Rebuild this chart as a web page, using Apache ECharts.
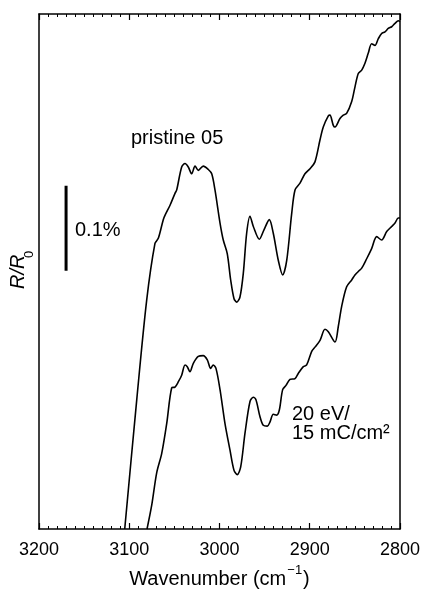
<!DOCTYPE html>
<html>
<head>
<meta charset="utf-8">
<script src="https://cdn.jsdelivr.net/npm/echarts@6/dist/echarts.min.js"></script>
<style>
  html, body { margin: 0; padding: 0; background: #fff; }
  #chart { width: 423px; height: 596px; }
</style>
</head>
<body>
<div id="chart"></div>
<script>
// Reflectance change spectra (R/R0, in %, vertically offset) vs. wavenumber
var pristineWn = [3105, 3091.7, 3080.7, 3071.5, 3067.8, 3062.3, 3060.4, 3054.8, 3049.3, 3047.4, 3041.9, 3038.2, 3034.6, 3030.8, 3027.1, 3023.5, 3018.0, 3012.4, 3008.6, 3005.0, 2999.4, 2995.8, 2991.4, 2987.6, 2983.9, 2980.9, 2977.3, 2973.6, 2969.9, 2966.2, 2962.5, 2955.9, 2950.7, 2944.8, 2940.4, 2934.8, 2930.0, 2925.5, 2920.0, 2916.3, 2910.8, 2905.3, 2899.7, 2894.2, 2888.6, 2885.0, 2879.4, 2877.6, 2873.9, 2872.0, 2866.5, 2862.8, 2859.1, 2853.5, 2849.9, 2846.2, 2842.4, 2838.8, 2835.1, 2831.4, 2827.7, 2824.0, 2820.3, 2816.6, 2813.0, 2809.2, 2805.5, 2801.9, 2800];
var pristineR = [0, 0.152, 0.269, 0.336, 0.342, 0.364, 0.369, 0.381, 0.395, 0.399, 0.426, 0.430, 0.426, 0.418, 0.427, 0.422, 0.427, 0.423, 0.418, 0.399, 0.360, 0.340, 0.324, 0.293, 0.271, 0.267, 0.273, 0.301, 0.348, 0.368, 0.356, 0.341, 0.352, 0.364, 0.348, 0.316, 0.299, 0.316, 0.371, 0.399, 0.407, 0.418, 0.424, 0.432, 0.458, 0.473, 0.486, 0.487, 0.475, 0.473, 0.483, 0.487, 0.489, 0.503, 0.520, 0.536, 0.540, 0.548, 0.560, 0.571, 0.569, 0.577, 0.583, 0.585, 0.589, 0.591, 0.595, 0.598, 0.597];

var irradWn = [3080.3, 3075.1, 3069.6, 3064.0, 3058.5, 3053.0, 3049.3, 3045.7, 3041.9, 3038.2, 3035.7, 3032.7, 3029.0, 3023.5, 3018.0, 3013.5, 3009.8, 3006.9, 3003.9, 2999.4, 2993.9, 2988.4, 2983.9, 2980.3, 2976.5, 2971.7, 2966.2, 2962.5, 2959.6, 2955.1, 2951.5, 2947.0, 2944.0, 2940.4, 2936.6, 2933.7, 2930.0, 2926.3, 2921.9, 2916.3, 2912.7, 2907.1, 2903.4, 2897.8, 2894.2, 2888.6, 2883.1, 2879.4, 2872.0, 2868.4, 2864.6, 2859.1, 2853.5, 2849.9, 2846.2, 2842.4, 2836.9, 2831.4, 2825.8, 2820.3, 2814.7, 2809.2, 2805.5, 2801.9, 2800];
var irradR = [0, 0.028, 0.066, 0.089, 0.124, 0.166, 0.167, 0.173, 0.181, 0.193, 0.191, 0.185, 0.195, 0.203, 0.204, 0.199, 0.189, 0.193, 0.189, 0.164, 0.124, 0.093, 0.069, 0.064, 0.073, 0.113, 0.150, 0.155, 0.152, 0.132, 0.122, 0.121, 0.126, 0.135, 0.134, 0.140, 0.164, 0.169, 0.176, 0.177, 0.183, 0.191, 0.193, 0.209, 0.214, 0.222, 0.235, 0.232, 0.220, 0.238, 0.262, 0.285, 0.293, 0.299, 0.303, 0.307, 0.318, 0.330, 0.344, 0.340, 0.350, 0.356, 0.360, 0.366, 0.366];

// 0.1 % scale bar
var scaleBarWn = 3170;
var scaleBarR = [0.304, 0.404];

var xTicks = [3200, 3100, 3000, 2900, 2800];

function pairs(xs, ys) {
  return xs.map(function (x, i) { return [x, ys[i]]; });
}

var FONT = '"Liberation Sans", Arial, Helvetica, sans-serif';

var xAxisBase = {
  type: 'value',
  min: 2800,
  max: 3200,
  interval: 100,
  inverse: true,
  splitLine: { show: false },
  axisLine: { show: true, onZero: false, lineStyle: { color: '#000', width: 1.5 } },
  axisTick: { show: true, inside: true, length: 6, lineStyle: { color: '#000', width: 1.2 } },
  minorTick: { show: true, splitNumber: 10, length: 3, lineStyle: { color: '#000', width: 1 } },
  minorSplitLine: { show: false }
};

var yAxisBase = {
  type: 'value',
  min: 0,
  max: 0.606,
  axisLine: { show: true, onZero: false, lineStyle: { color: '#000', width: 1.5 } },
  axisTick: { show: false },
  axisLabel: { show: false },
  splitLine: { show: false }
};

var chart = echarts.init(document.getElementById('chart'), null, { renderer: 'canvas' });

chart.setOption({
  animation: false,
  backgroundColor: '#fff',
  grid: { left: 39, right: 23, top: 14, bottom: 67, containLabel: false },
  xAxis: [
    Object.assign({}, xAxisBase, {
      position: 'bottom',
      axisLabel: {
        show: true, margin: 12, color: '#000', fontSize: 18, fontFamily: FONT,
        customValues: xTicks,
        formatter: function (v) { return String(v); }
      },
      name: '{t|Wavenumber (cm}{s|−1}{t|)}',
      nameLocation: 'middle',
      nameGap: 34,
      nameTextStyle: {
        color: '#000', fontFamily: FONT,
        rich: {
          t: { fontSize: 20, fontFamily: FONT, color: '#000', lineHeight: 26, verticalAlign: 'bottom' },
          s: { fontSize: 13, fontFamily: FONT, color: '#000', lineHeight: 13, verticalAlign: 'top', padding: [0, 1, 0, 1] }
        }
      }
    }),
    Object.assign({}, xAxisBase, {
      position: 'top',
      axisLabel: { show: false }
    })
  ],
  yAxis: [
    Object.assign({}, yAxisBase, { position: 'left' }),
    Object.assign({}, yAxisBase, { position: 'right' })
  ],
  series: [
    {
      name: 'pristine 05',
      type: 'line',
      data: pairs(pristineWn, pristineR),
      smooth: 0.3,
      showSymbol: false,
      clip: true,
      lineStyle: { color: '#000', width: 1.6 }
    },
    {
      name: '20 eV/15 mC/cm²',
      type: 'line',
      data: pairs(irradWn, irradR),
      smooth: 0.3,
      showSymbol: false,
      clip: true,
      lineStyle: { color: '#000', width: 1.6 }
    },
    {
      name: 'scale',
      type: 'line',
      data: [[scaleBarWn, scaleBarR[0]], [scaleBarWn, scaleBarR[1]]],
      showSymbol: false,
      lineStyle: { color: '#000', width: 3, cap: 'butt' }
    }
  ],
  graphic: [
    {
      type: 'text', left: 131, top: 128,
      style: { text: 'pristine 05', fontSize: 20, fontFamily: FONT, fill: '#000' }
    },
    {
      type: 'text', left: 75, top: 220,
      style: { text: '0.1%', fontSize: 20, fontFamily: FONT, fill: '#000' }
    },
    {
      type: 'text', left: 292, top: 404,
      style: { text: '20 eV/\n15 mC/cm²', fontSize: 20, lineHeight: 19.5, fontFamily: FONT, fill: '#000' }
    },
    {
      type: 'group',
      x: 18, y: 289,
      rotation: Math.PI / 2,
      children: [
        {
          type: 'text', x: 0, y: 0,
          style: { text: 'R/R', fontSize: 20, fontStyle: 'italic', fontFamily: FONT, fill: '#000', align: 'left', verticalAlign: 'middle' }
        },
        {
          type: 'text', x: 31, y: 11,
          style: { text: '0', fontSize: 13, fontFamily: FONT, fill: '#000', align: 'left', verticalAlign: 'middle' }
        }
      ]
    }
  ]
});
</script>
</body>
</html>
